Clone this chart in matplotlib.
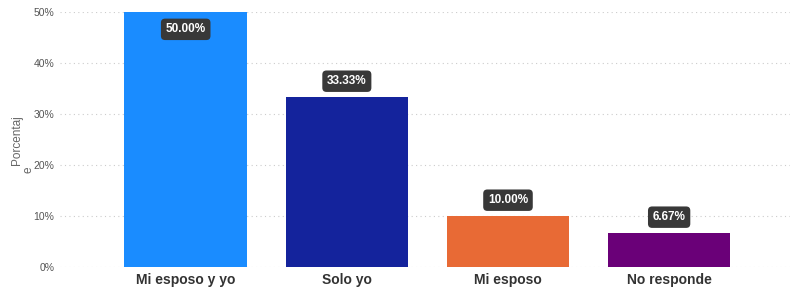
import matplotlib
matplotlib.use("Agg")
import matplotlib.pyplot as plt
from matplotlib.ticker import FuncFormatter

categories = ["Mi esposo y yo", "Solo yo", "Mi esposo", "No responde"]
values = [50.00, 33.33, 10.00, 6.67]
colors = ["#1a8cff", "#14239c", "#e86a35", "#6a0078"]
yticks = [0, 10, 20, 30, 40, 50]

plt.rcParams['font.family'] = ['Liberation Sans', 'DejaVu Sans']

fig = plt.figure(figsize=(8.05, 2.97), dpi=100)
ax = fig.add_axes([60/805, 30/297, 730/805, 255/297])

x = list(range(len(categories)))
ax.bar(x, values, width=0.76, color=colors, zorder=3)

ax.set_ylim(0, 50)
ax.set_xlim(-0.78, 3.75)
ax.set_yticks(yticks)
ax.yaxis.set_major_formatter(FuncFormatter(lambda v, p: f"{int(v)}%"))
ax.grid(axis='y', linestyle=(0, (1, 3)), color='#cccccc', linewidth=0.8, zorder=0)
for s in ax.spines.values():
    s.set_visible(False)
ax.tick_params(axis='both', length=0)
ax.tick_params(axis='y', labelsize=7.5, labelcolor='#555555', pad=4)
ax.set_xticks(x)
ax.set_xticklabels(categories, fontsize=10, fontweight='bold', color='#333333')
ax.tick_params(axis='x', pad=4)

# y-axis title, wrapped as in the reference
fig.text(17/805, 1 - 140/297, "Porcentaj", rotation=90, ha='center', va='center',
         fontsize=8.5, color='#666666')
fig.text(29/805, 1 - 170/297, "e", rotation=90, ha='center', va='center',
         fontsize=8.5, color='#666666')

for i, v in enumerate(values):
    if v >= 45:
        y = v - 3.4
    else:
        y = v + 3.1
    ax.text(i, y, f"{v:.2f}%", ha='center', va='center', fontsize=8.5, fontweight='bold',
            color='white', zorder=5,
            bbox=dict(boxstyle='round,pad=0.4,rounding_size=0.35', fc='#383838', ec='none'))

fig.savefig("out.png", dpi=100)
